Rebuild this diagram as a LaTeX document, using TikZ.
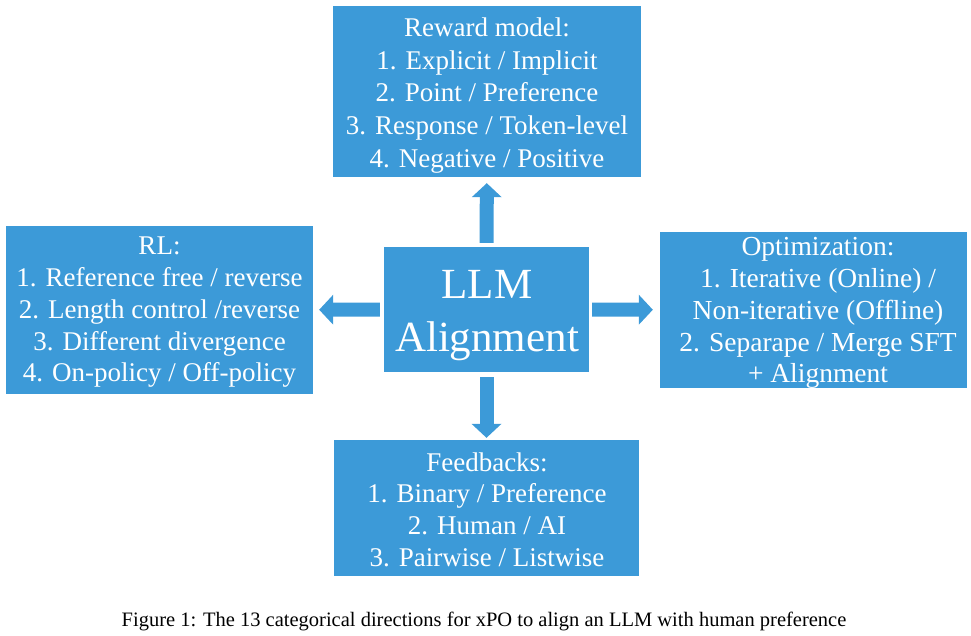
\documentclass[tikz,border=0pt]{standalone}
\usepackage{fontspec}
\setmainfont{Liberation Serif}
\usetikzlibrary{arrows.meta}
\definecolor{boxblue}{RGB}{60,154,216}
\tikzset{
  box/.style={fill=boxblue, inner sep=0pt},
  boxtext/.style={text=white, inner sep=0pt, align=center},
  blockarrow/.style={draw=boxblue, line width=14pt,
    -{Triangle[length=14pt,width=30pt,line width=0pt]}},
}
\begin{document}
\begin{tikzpicture}[x=1pt,y=-1pt]
\useasboundingbox (0,0) rectangle (971,635);
% boxes
\node[box, minimum width=308pt, minimum height=171pt] (reward) at (487,91.5) {};
\node[box, minimum width=307pt, minimum height=168pt] (rl) at (159.5,310) {};
\node[box, minimum width=307pt, minimum height=156pt] (opt) at (813.5,310) {};
\node[box, minimum width=305pt, minimum height=136pt] (fb) at (486.5,508) {};
\node[box, minimum width=205pt, minimum height=125pt] (llm) at (486.5,309.5) {};
% texts
\node[boxtext, font=\fontsize{27}{32.75}\selectfont] (rewardtext) at (487,95.3)
  {Reward model:\\1. Explicit / Implicit\\2. Point / Preference\\3. Response / Token-level\\4. Negative / Positive};
\node[boxtext, font=\fontsize{27}{31.75}\selectfont] (rltext) at (159.5,312.5)
  {RL:\\1. Reference free / reverse\\2. Length control /reverse\\3. Different divergence\\4. On-policy / Off-policy};
\node[boxtext, font=\fontsize{27.5}{31.75}\selectfont] (opttext) at (818,313.3)
  {Optimization:\\1. Iterative (Online) /\\Non-iterative (Offline)\\2. Separape / Merge SFT\\+ Alignment};
\node[boxtext, font=\fontsize{27}{31.67}\selectfont] (fbtext) at (487,509.5)
  {Feedbacks:\\1. Binary / Preference\\2. Human / AI\\3. Pairwise / Listwise};
\node[boxtext, font=\fontsize{43}{53}\selectfont] (llmtext) at (487,316)
  {LLM\\Alignment};
% arrows
\draw[blockarrow, shorten <=4pt, shorten >=6pt] (llm) -- (reward);
\draw[blockarrow, shorten <=4pt, shorten >=6pt] (llm) -- (rl);
\draw[blockarrow, shorten <=3pt, shorten >=7pt] (llm) -- (opt);
\draw[blockarrow, shorten <=5pt, shorten >=2pt] (llm) -- (fb);
% caption
\node[font=\fontsize{20.5}{24}\selectfont, anchor=base, inner sep=0pt] (cap) at (484,626.5)
  {Figure 1: The 13 categorical directions for xPO to align an LLM with human preference};
\end{tikzpicture}
\end{document}
